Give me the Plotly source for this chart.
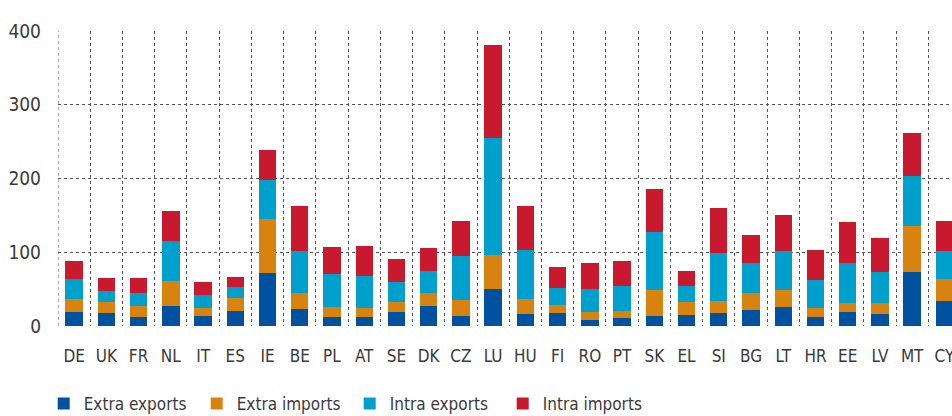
import plotly.graph_objects as go

countries = ["DE", "UK", "FR", "NL", "IT", "ES", "IE", "BE", "PL", "AT", "SE", "DK", "CZ", "LU",
             "HU", "FI", "RO", "PT", "SK", "EL", "SI", "BG", "LT", "HR", "EE", "LV", "MT", "CY"]

extra_exports = [18.6, 17.2, 11.8, 26.7, 13.1, 19.9, 71.5, 22.6, 11.8, 11.8, 18.6, 26.7, 13.1, 49.8,
                 15.8, 17.2, 7.7, 10.4, 13.1, 14.5, 17.2, 21.3, 25.3, 11.8, 18.6, 15.8, 72.9, 33.5]
extra_imports = [17.6, 14.9, 15.3, 33.9, 11.3, 18.1, 73.3, 21.7, 13.5, 12.6, 13.5, 17.6, 21.7, 46.1,
                 20.4, 10.9, 10.9, 9.5, 35.3, 17.6, 16.3, 23.0, 23.1, 12.6, 12.2, 15.0, 62.4, 29.8]
intra_exports = [27.1, 15.0, 17.2, 54.3, 17.2, 14.5, 52.9, 57.1, 44.8, 43.0, 27.2, 29.9, 59.8, 158.9,
                 66.5, 23.0, 31.2, 33.9, 78.7, 21.7, 65.1, 40.8, 53.0, 37.6, 54.3, 42.1, 67.9, 38.1]
intra_imports = [24.5, 17.6, 20.4, 40.8, 17.7, 13.6, 40.8, 61.0, 36.7, 40.7, 31.2, 31.2, 47.5, 126.2,
                 59.7, 28.5, 35.3, 34.0, 58.4, 20.4, 61.1, 38.0, 48.8, 40.7, 55.6, 46.1, 58.3, 40.7]

y_ticks = [0, 100, 200, 300, 400]

series = [
    ("Extra exports", extra_exports, "#0052A0"),
    ("Extra imports", extra_imports, "#D8820F"),
    ("Intra exports", intra_exports, "#00A0CD"),
    ("Intra imports", intra_imports, "#C8192F"),
]

FONT = "DejaVu Sans Condensed, Liberation Sans Narrow, sans-serif"

fig = go.Figure()
for name, vals, color in series:
    fig.add_trace(go.Bar(x=countries, y=vals, name=name, marker=dict(color=color, line=dict(width=0))))

fig.update_layout(
    barmode="stack",
    bargap=0.46,
    width=952, height=416,
    margin=dict(l=58, r=0, t=31, b=90, autoexpand=False),
    paper_bgcolor="white", plot_bgcolor="white",
    font=dict(family=FONT, color="#3a3a3a"),
    showlegend=True,
    legend=dict(orientation="h", x=-0.016, xanchor="left", y=-0.264, yanchor="middle",
                font=dict(size=17, color="#3a3a3a"), entrywidth=108, entrywidthmode="pixels",
                traceorder="normal"),
    shapes=[dict(type="line", xref="x", yref="paper", x0=-0.5, x1=-0.5, y0=0, y1=1,
                 line=dict(color="#555555", width=1, dash="dot"))],
)
fig.update_xaxes(
    type="category", range=[-0.5, 27.236], automargin=False,
    showgrid=True, gridcolor="#555555", griddash="dot", gridwidth=1,
    tickson="boundaries", ticks="", ticklabelstandoff=18, tickangle=0,
    tickfont=dict(size=17, color="#3a3a3a"),
    showline=False, zeroline=False,
)
fig.update_yaxes(
    range=[0, 400], tickvals=y_ticks, automargin=False,
    showgrid=True, gridcolor="#555555", griddash="dot", gridwidth=1,
    ticks="", ticklabelstandoff=16,
    tickfont=dict(size=19, color="#3a3a3a"),
    zeroline=False, showline=False,
)

fig.write_html(
    "out.html",
    config={"displayModeBar": False},
    post_script="document.body.style.margin='0';document.body.style.overflow='hidden';",
)
